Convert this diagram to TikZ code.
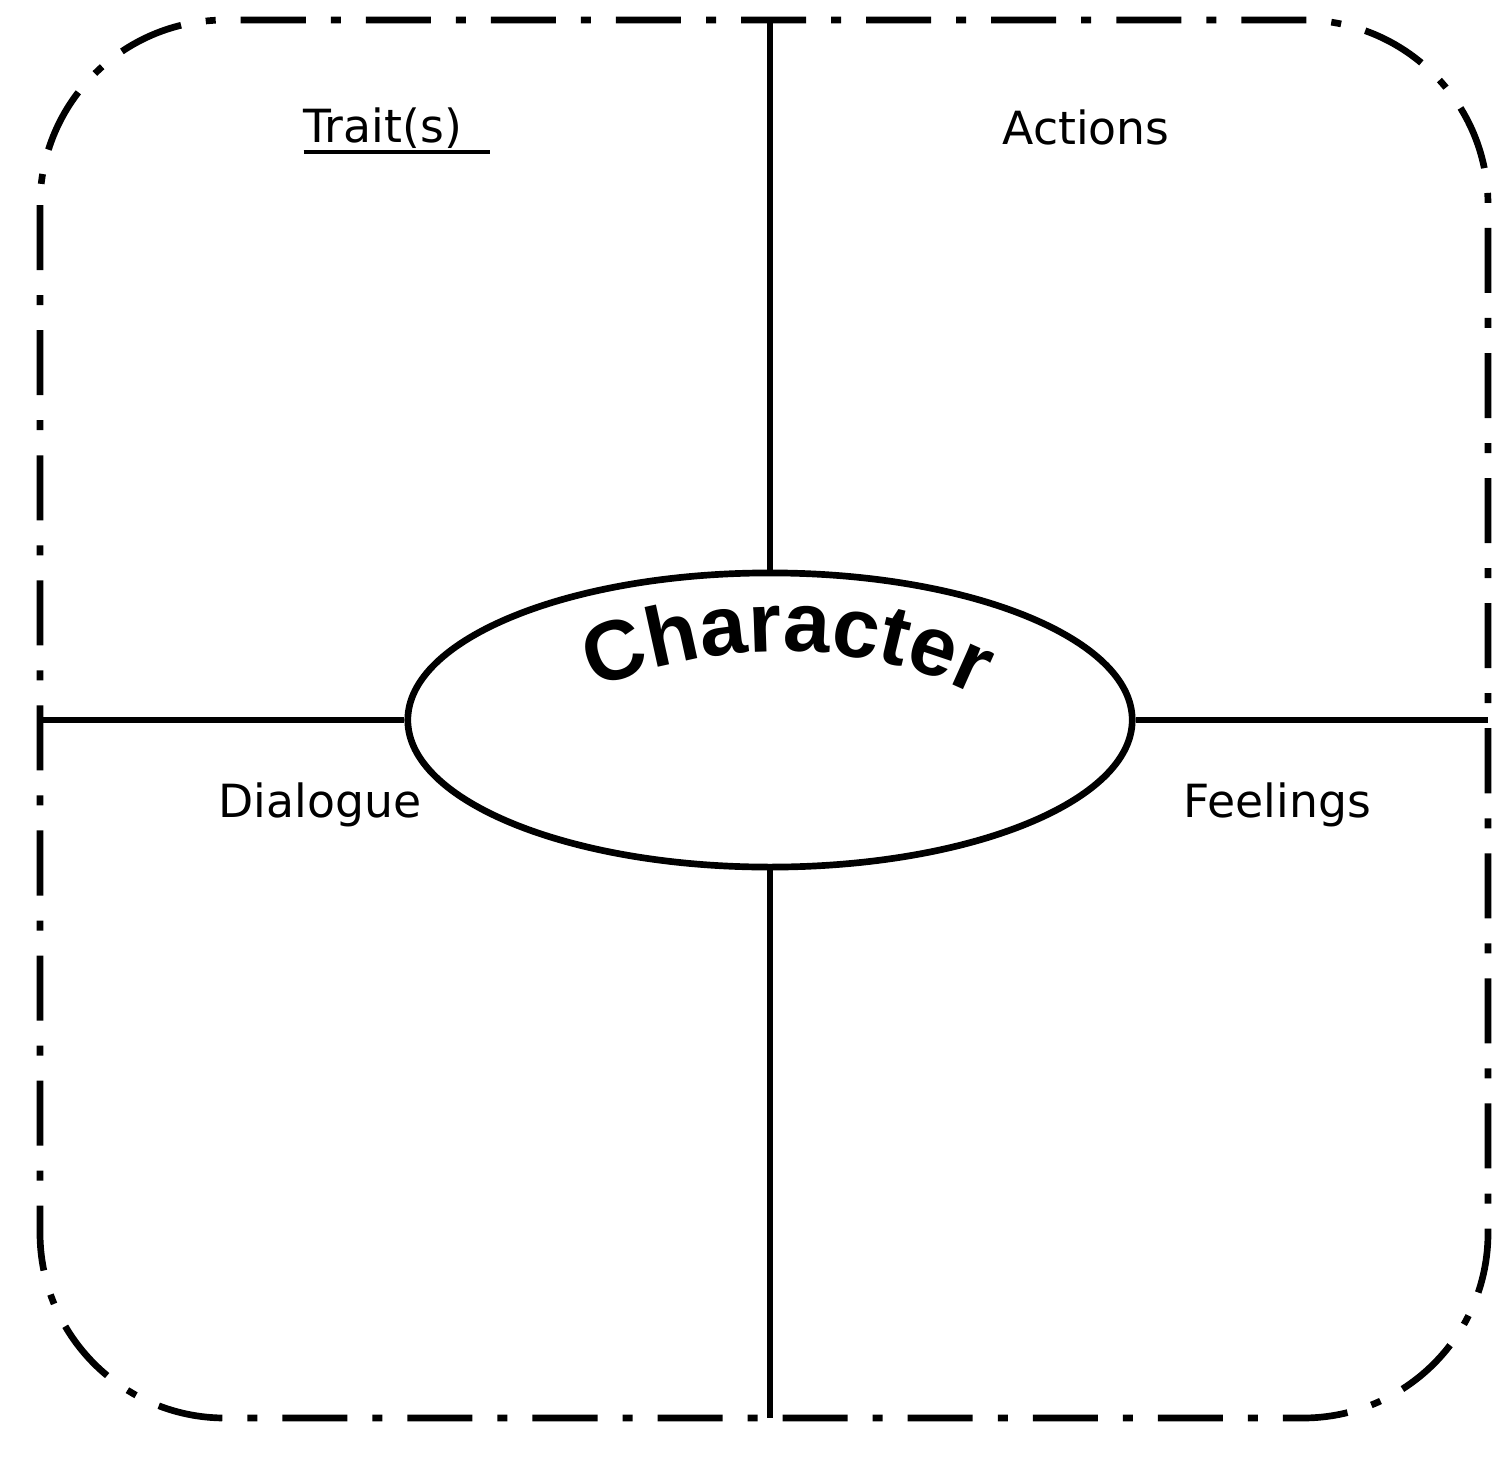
\documentclass[tikz,border=0pt]{standalone}
\usepackage{fontspec}
\setmainfont{DejaVu Sans}
\newfontfamily\charfont{Liberation Sans}
\usetikzlibrary{shapes.geometric,decorations.text}
\newcommand\thickul[1]{\vtop{\hbox{#1}\kern0.3pt\hrule height 1pt}}
\tikzset{
  frame/.style={draw=black,line width=1.9pt,rounded corners=1.85cm,
    dash pattern=on 0.65cm off 0.25cm on 0.1cm off 0.25cm},
  spoke/.style={draw=black,line width=1.6pt},
  hub/.style={ellipse,draw=black,line width=1.9pt,minimum width=7.24cm,minimum height=2.94cm,inner sep=0pt},
  lbl/.style={font=\fontsize{13}{15}\selectfont,inner sep=0pt,anchor=base west},
}
\begin{document}
\begin{tikzpicture}[x=0.01cm,y=-0.01cm]
  \useasboundingbox (0,0) rectangle (1507,1464);
  % frame
  \path[frame] (40,20) rectangle (1488,1418);
  \coordinate (ftop) at (770,20);
  \coordinate (fbot) at (770,1418);
  \coordinate (fleft) at (40,720);
  \coordinate (fright) at (1488,720);
  % centre
  \node[hub] (ch) at (770,720) {};
  \path[decorate,decoration={text along path,text align=center,
    text={|\charfont\bfseries\fontsize{24}{24}\selectfont|Character}}]
    (572,700) .. controls (700,636) and (870,632) .. (1000,708);
  \draw[spoke] (ftop) -- (ch.north);
  \draw[spoke] (ch.south) -- (fbot);
  \draw[spoke] (fleft) -- (ch.west);
  \draw[spoke] (ch.east) -- (fright);
  % quadrants
  \node[lbl] (trait) at (303,143) {\thickul{Trait(s)\hspace{8pt}}};
  \node[lbl] (act) at (1002,145) {Actions};
  \node[lbl] (dia) at (218,817) {Dialogue};
  \node[lbl] (feel) at (1183,817) {Feelings};
\end{tikzpicture}
\end{document}
